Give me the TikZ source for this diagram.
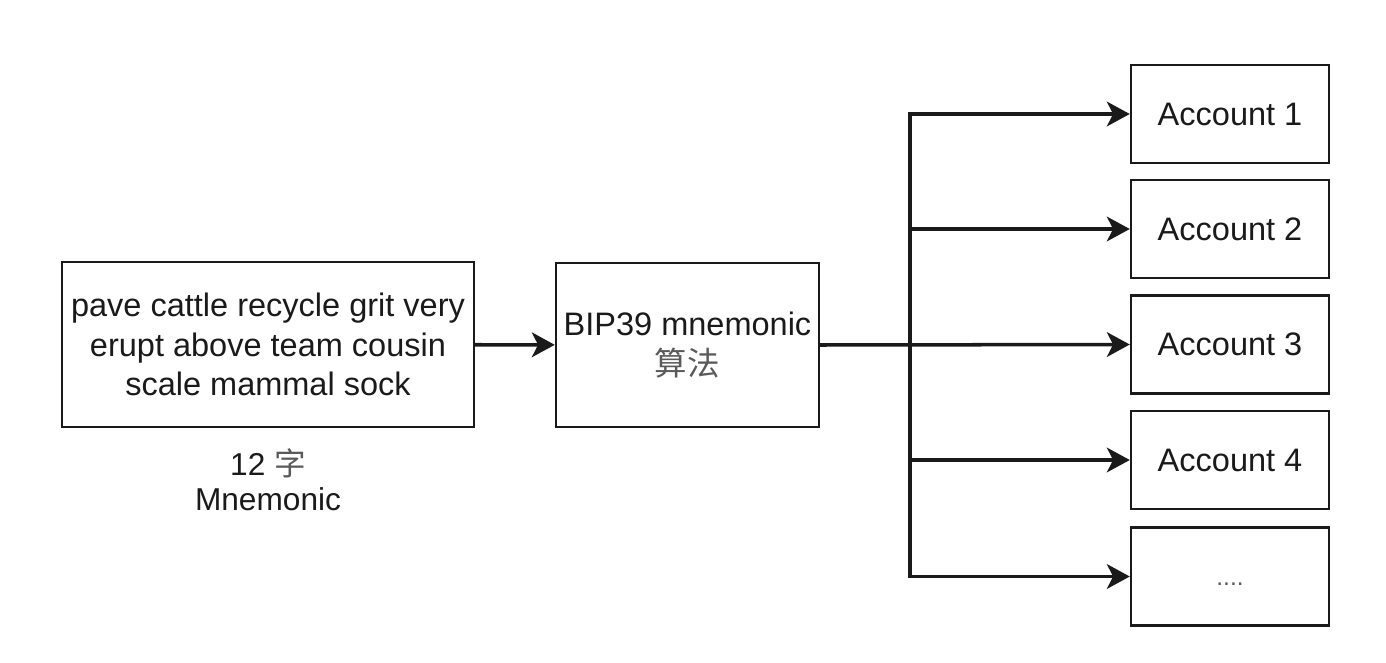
\documentclass[tikz,border=0pt]{standalone}
\usepackage{fontspec}
\setmainfont{Liberation Sans}
\newfontfamily\cjk{Noto Sans CJK SC}
\usetikzlibrary{arrows.meta}

\begin{document}
\begin{tikzpicture}[font=\fontsize{18.5}{22.4}\selectfont]
  \definecolor{ink}{HTML}{1A1A1A}
  \definecolor{hanzi}{HTML}{5A5A5A}
  \path[use as bounding box] (0,0) rectangle (27.72,13.24);

  \tikzset{box/.style={draw=ink,line width=1.4pt,align=center,text=ink,inner sep=0pt},
           link/.style={draw=ink,line width=2pt,-{Stealth[length=13pt,width=14pt,inset=3.5pt]}},
           account/.style={box,minimum width=3.96cm,minimum height=1.96cm}}

  % seed words and the algorithm box
  \node[box,minimum width=8.24cm,minimum height=3.3cm] (mnemonic) at (5.36,6.35)
    {pave cattle recycle grit very\\erupt above team cousin\\scale mammal sock};
  \node[align=center,text=ink,font=\fontsize{18}{19.8}\selectfont] (count) at (5.36,3.65)
    {12 {\cjk\color{hanzi}字}\\Mnemonic};
  \node[box,minimum width=5.26cm,minimum height=3.28cm] (bip) at (13.75,6.34)
    {BIP39 mnemonic\\{\cjk\color{hanzi}算法}};

  % derived accounts
  \node[account] (acc1) at (24.6,10.96) {Account 1};
  \node[account] (acc2) at (24.6,8.66) {Account 2};
  \node[account] (acc3) at (24.6,6.35) {Account 3};
  \node[account] (acc4) at (24.6,4.04) {Account 4};
  \node[account] (acc5) at (24.6,1.71) {};
  \node[text=hanzi,font=\fontsize{14}{16}\selectfont] (more) at (24.6,1.55) {....};

  \coordinate (split) at (18.2,6.35);

  \draw[link] (mnemonic) -- (bip);
  \draw[link] (bip.east) -- (acc3.west);
  \draw[link,{Stealth[length=13pt,width=14pt,inset=3.5pt]}-{Stealth[length=13pt,width=14pt,inset=3.5pt]}]
    (acc1.west) -- (split |- acc1.west) -- (split |- acc5.west) -- (acc5.west);
  \draw[link] (split |- acc2.west) -- (acc2.west);
  \draw[link] (split |- acc4.west) -- (acc4.west);
\end{tikzpicture}
\end{document}
